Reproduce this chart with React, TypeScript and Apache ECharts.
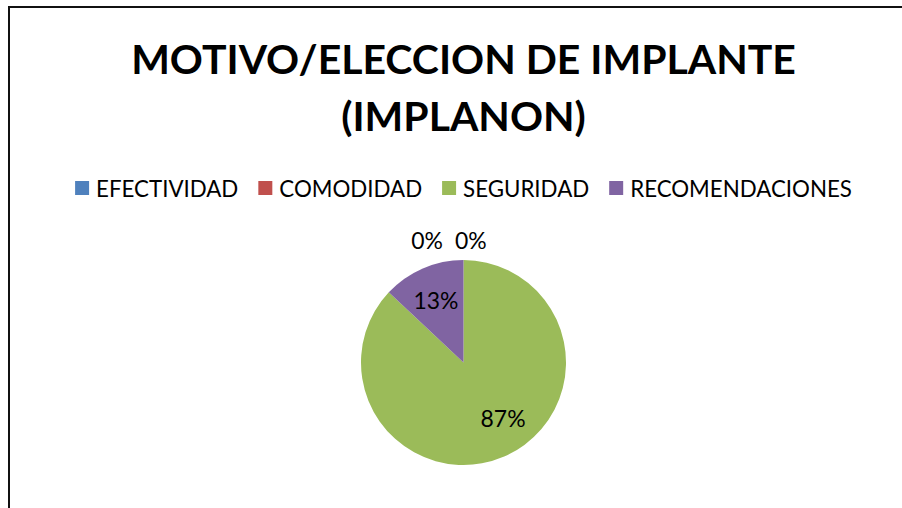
import React, { useEffect, useRef } from "react";
import * as echarts from "echarts";

const titleLines = ["MOTIVO/ELECCION DE IMPLANTE", "(IMPLANON)"];
const categories = ["EFECTIVIDAD", "COMODIDAD", "SEGURIDAD", "RECOMENDACIONES"];
const percentages = [0, 0, 87, 13];
const sliceColors = ["#4F81BD", "#C0504D", "#9BBB59", "#8064A2"];

const FONT = "Lato, 'Open Sans', sans-serif";

// label placement tweaks (style only): [dx, dy, align]
const labelNudges: [number, number, string | undefined][] = [
  [-15.5, 0, "right"],
  [-3.5, 0, "left"],
  [18, 6, undefined],
  [-6, -13, undefined],
];

function fitSize(texts: string[], target: number, weight: string): number {
  const ctx = document.createElement("canvas").getContext("2d");
  if (!ctx) return 20;
  ctx.font = `${weight} 100px ${FONT}`;
  const w = texts.reduce((s, t) => s + ctx.measureText(t).width, 0);
  return (100 * target) / w;
}

export default function App() {
  const ref = useRef<HTMLDivElement>(null);

  useEffect(() => {
    if (!ref.current) return;
    const chart = echarts.init(ref.current, undefined, { renderer: "svg" });

    const titleSize = fitSize([titleLines[0]], 665, "bold");
    const legendSize = fitSize(categories, 633, "normal");
    const labelSize = fitSize(["87%"], 45, "normal");

    chart.setOption({
      animation: false,
      color: sliceColors,
      graphic: [
        {
          type: "rect",
          shape: { x: 9, y: 7, width: 2000, height: 2000 },
          style: { fill: "none", stroke: "#111", lineWidth: 2 },
          silent: true,
        },
      ],
      title: {
        text: titleLines.join("\n"),
        left: "center",
        top: 29.5,
        padding: 0,
        textStyle: {
          fontFamily: FONT,
          fontWeight: "bold",
          fontSize: titleSize,
          lineHeight: 57,
          color: "#000",
        },
      },
      legend: {
        data: categories,
        left: "center",
        top: 174,
        padding: 0,
        itemGap: 20,
        itemWidth: 14,
        itemHeight: 14,
        icon: "rect",
        selectedMode: false,
        textStyle: {
          fontFamily: FONT,
          fontSize: legendSize,
          lineHeight: 28,
          color: "#000",
          padding: [0, 0, 0, 2],
        },
      },
      series: [
        {
          type: "pie",
          center: ["50%", 362.5],
          radius: 102.5,
          startAngle: 90,
          clockwise: true,
          avoidLabelOverlap: false,
          percentPrecision: 0,
          itemStyle: { borderWidth: 0 },
          label: {
            show: true,
            position: "inside",
            formatter: "{d}%",
            fontFamily: FONT,
            fontSize: labelSize,
            color: "#000",
          },
          labelLine: { show: false },
          labelLayout: (params: any) => {
            const n = labelNudges[params.dataIndex];
            const out: any = { dx: n[0], dy: n[1] };
            if (n[2]) out.align = n[2];
            return out;
          },
          data: categories.map((name, i) => {
            const item: any = { name, value: percentages[i] };
            if (percentages[i] === 0) {
              item.label = { position: "outside" };
              item.labelLine = { show: false, length: 20, length2: 0 };
            }
            return item;
          }),
        },
      ],
    });

    return () => chart.dispose();
  }, []);

  return (
    <div
      style={{
        position: "absolute",
        left: 0,
        top: 0,
        width: 902,
        height: 508,
        overflow: "hidden",
        background: "#fff",
      }}
    >
      <div ref={ref} style={{ width: 927, height: 520 }} />
    </div>
  );
}
